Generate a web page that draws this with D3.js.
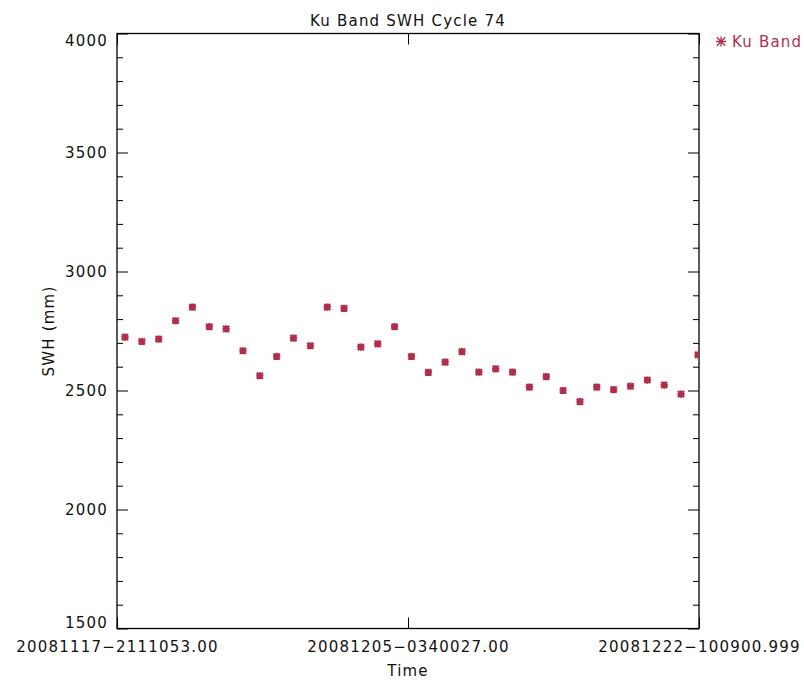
<!DOCTYPE html>
<html>
<head>
<meta charset="utf-8">
<script src="https://cdn.jsdelivr.net/npm/d3@7"></script>
<style>
  html, body { margin: 0; padding: 0; background: #fff; }
  svg text { font-family: "DejaVu Sans", sans-serif; font-size: 15px; fill: #111; letter-spacing: 1.2px; }
</style>
</head>
<body>
<svg id="chart" width="804" height="680"></svg>
<script>
// ---- data ----
const title = "Ku Band SWH Cycle 74";
const seriesName = "Ku Band";
const yLabel = "SWH (mm)";
const xLabel = "Time";
const timeStart = "2008-11-17T21:11:05.300";
const timeEnd = "2008-12-22T10:09:00.999";
const xTickLabels = ["20081117−2111053.00", "20081205−0340027.00", "20081222−100900.999"];
const yTicks = [1500, 2000, 2500, 3000, 3500, 4000];
const dates = [
  "2008-11-18T08:35", "2008-11-19T08:35", "2008-11-20T08:35", "2008-11-21T08:35", "2008-11-22T08:35",
  "2008-11-23T08:35", "2008-11-24T08:35", "2008-11-25T08:35", "2008-11-26T08:35", "2008-11-27T08:35",
  "2008-11-28T08:35", "2008-11-29T08:35", "2008-11-30T08:35", "2008-12-01T08:35", "2008-12-02T08:35",
  "2008-12-03T08:35", "2008-12-04T08:35", "2008-12-05T08:35", "2008-12-06T08:35", "2008-12-07T08:35",
  "2008-12-08T08:35", "2008-12-09T08:35", "2008-12-10T08:35", "2008-12-11T08:35", "2008-12-12T08:35",
  "2008-12-13T08:35", "2008-12-14T08:35", "2008-12-15T08:35", "2008-12-16T08:35", "2008-12-17T08:35",
  "2008-12-18T08:35", "2008-12-19T08:35", "2008-12-20T08:35", "2008-12-21T08:35", "2008-12-22T08:45"
];
const swh = [
  2724, 2706, 2716, 2793, 2850, 2768, 2759, 2667, 2562, 2643,
  2720, 2688, 2850, 2845, 2682, 2696, 2768, 2643, 2576, 2619,
  2663, 2577, 2591, 2577, 2514, 2558, 2500, 2453, 2514, 2504,
  2518, 2544, 2523, 2485, 2650
];

// ---- layout ----
const L = 117, R = 699, T = 33.5, B = 628.5;
const color = "#b12e4b";
const svg = d3.select("#chart");

const parse = s => new Date(s + "Z");
const t0 = parse(timeStart), t1 = parse(timeEnd);
const tMid = new Date((+t0 + +t1) / 2);
const x = d3.scaleUtc().domain([t0, t1]).range([L, R]);
const y = d3.scaleLinear().domain([1500, 4000]).range([B, T]);

const minorY = d3.range(1500, 4001, 100).filter(v => v % 500 !== 0);

// clip
svg.append("clipPath").attr("id", "plotclip")
  .append("rect").attr("x", L).attr("y", T).attr("width", R - L).attr("height", B - T);

// y axes (left and right, inward ticks)
function yAxis(gen, xpos, labels) {
  const g = svg.append("g").attr("transform", `translate(${xpos},0)`);
  g.call(gen(y).tickValues(yTicks).tickSizeInner(xpos === L ? -11 : -11).tickSizeOuter(0)
    .tickPadding(9).tickFormat(labels ? d3.format("d") : ""));
  g.append("g").call(gen(y).tickValues(minorY).tickSizeInner(-6).tickSizeOuter(0).tickFormat(""));
  g.selectAll(".domain").remove();
  g.selectAll("line").attr("stroke", "#000");
  g.selectAll("text").style("font-family", "DejaVu Sans").style("font-size", "15px").attr("fill", "#111");
  return g;
}
const gl = yAxis(d3.axisLeft, L, true);
// shift end labels inward like the reference
gl.selectAll(".tick text").attr("dy", d => d === 4000 ? "0.8em" : d === 1500 ? "-0.05em" : "0.32em");
yAxis(d3.axisRight, R, false);

// x axes: ticks at start, middle, end
const xTickVals = [t0, tMid, t1];
const gb = svg.append("g").attr("transform", `translate(0,${B})`)
  .call(d3.axisBottom(x).tickValues(xTickVals).tickSizeInner(-11).tickSizeOuter(0).tickPadding(13)
    .tickFormat((d, i) => xTickLabels[i]));
gb.selectAll(".domain").remove();
gb.selectAll("line").attr("stroke", "#000");
gb.selectAll("text").style("font-family", "DejaVu Sans").style("font-size", "15px").attr("fill", "#111").attr("dy", "0.71em");

const gt = svg.append("g").attr("transform", `translate(0,${T})`)
  .call(d3.axisTop(x).tickValues(xTickVals).tickSizeInner(-11).tickSizeOuter(0).tickFormat(""));
gt.selectAll(".domain").remove();
gt.selectAll("line").attr("stroke", "#000");

// frame
svg.append("rect").attr("x", L).attr("y", T).attr("width", R - L).attr("height", B - T)
  .attr("fill", "none").attr("stroke", "#000").attr("stroke-width", 1.3);

// markers (asterisk)
const star = s => `M${-s},0H${s}M0,${-s}V${s}M${-s*0.85},${-s*0.85}L${s*0.85},${s*0.85}M${-s*0.85},${s*0.85}L${s*0.85},${-s*0.85}`;
svg.append("g").attr("clip-path", "url(#plotclip)")
  .selectAll("path").data(dates.map((d, i) => ({ t: parse(d), v: swh[i] })))
  .join("path")
  .attr("transform", d => `translate(${x(d.t)},${y(d.v)})`)
  .attr("d", star(3.6))
  .attr("stroke", color).attr("stroke-width", 2.2).attr("fill", "none");

// title
svg.append("text").attr("x", (L + R) / 2).attr("y", 26).attr("text-anchor", "middle").text(title);
// axis titles
svg.append("text").attr("x", (L + R) / 2).attr("y", 676).attr("text-anchor", "middle").text(xLabel);
svg.append("text").attr("transform", `translate(54,${(T + B) / 2}) rotate(-90)`).attr("text-anchor", "middle").text(yLabel);

// legend
svg.append("path").attr("transform", "translate(721,41.5)").attr("d", star(5))
  .attr("stroke", color).attr("stroke-width", 1.3).attr("fill", "none");
svg.append("text").attr("x", 732).attr("y", 47).style("fill", color).text(seriesName);
</script>
</body>
</html>
